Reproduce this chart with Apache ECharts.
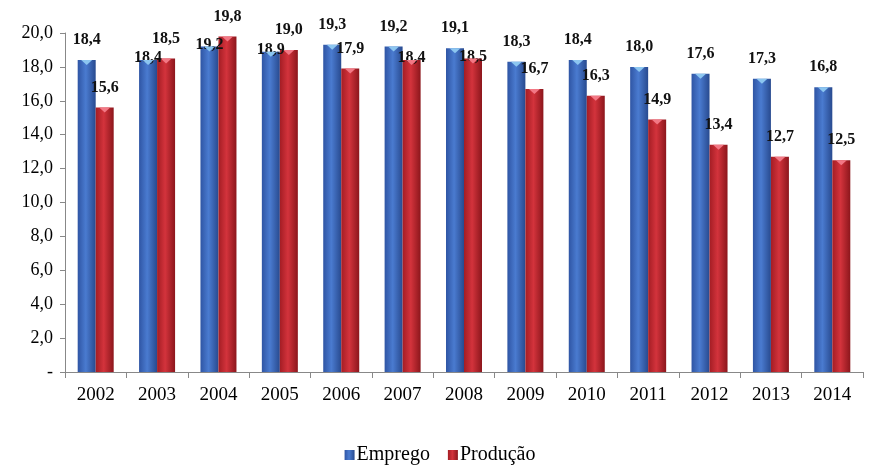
<!DOCTYPE html>
<html>
<head>
<meta charset="utf-8">
<script src="https://cdn.jsdelivr.net/npm/echarts@6/dist/echarts.min.js"></script>
<style>
  html, body { margin: 0; padding: 0; background: #fff; }
  #chart { width: 880px; height: 470px; }
</style>
</head>
<body>
<div id="chart"></div>
<script>
var anos = ['2002', '2003', '2004', '2005', '2006', '2007', '2008', '2009', '2010', '2011', '2012', '2013', '2014'];
var emprego = [18.4, 18.4, 19.2, 18.9, 19.3, 19.2, 19.1, 18.3, 18.4, 18.0, 17.6, 17.3, 16.8];
var producao = [15.6, 18.5, 19.8, 19.0, 17.9, 18.4, 18.5, 16.7, 16.3, 14.9, 13.4, 12.7, 12.5];

var fonte = '"Liberation Serif", "Times New Roman", serif';

function virgula(v) {
  return v.toFixed(1).replace('.', ',');
}

// gradiente horizontal para dar o ar de cilindro
function grad(borda, meio, escuro) {
  return new echarts.graphic.LinearGradient(0, 0, 1, 0, [
    { offset: 0, color: borda },
    { offset: 0.45, color: meio },
    { offset: 1, color: escuro }
  ]);
}

// quando os dois rótulos do mesmo ano se encostam, o da barra mais baixa desce
function ajustaRotulo(p) {
  var i = p.dataIndex;
  var meu = p.seriesIndex === 0 ? emprego[i] : producao[i];
  var outro = p.seriesIndex === 0 ? producao[i] : emprego[i];
  if (Math.abs(meu - outro) < 1 && meu < outro) {
    return { dy: 18 };
  }
  return {};
}

var rotulo = {
  show: true, position: 'top', distance: 12,
  fontFamily: fonte, fontSize: 16, fontWeight: 'bold', color: '#111',
  formatter: function (p) { return virgula(p.value); }
};

// tampinha triangular clara no topo de cada barra
var tampa = 'path://M0,0 L10,0 L5,5 Z';

var myChart = echarts.init(document.getElementById('chart'));

var option = {
  backgroundColor: '#fff',
  animation: false,
  grid: { left: 65, right: 17, top: 33, bottom: 98 },
  legend: {
    data: ['Emprego', 'Produção'],
    left: 'center',
    top: 440,
    itemWidth: 10,
    itemHeight: 10,
    itemGap: 18,
    icon: 'rect',
    textStyle: { fontFamily: fonte, fontSize: 20, color: '#000', padding: [0, 0, 0, -3] }
  },
  xAxis: {
    type: 'category',
    data: anos,
    axisLine: { lineStyle: { color: '#888' } },
    axisTick: { show: true, length: 6, lineStyle: { color: '#888' } },
    axisLabel: { fontFamily: fonte, fontSize: 19, color: '#000', margin: 14 }
  },
  yAxis: {
    type: 'value',
    min: 0,
    max: 20,
    interval: 2,
    splitLine: { show: false },
    axisLine: { show: true, lineStyle: { color: '#888' } },
    axisTick: { show: true, length: 5, lineStyle: { color: '#888' } },
    axisLabel: {
      fontFamily: fonte, fontSize: 18, color: '#000', margin: 12,
      formatter: function (v) { return v === 0 ? '-' : virgula(v); }
    }
  },
  series: [
    {
      name: 'Emprego',
      type: 'bar',
      data: emprego,
      barWidth: 18,
      barGap: '0%',
      itemStyle: { color: grad('#2f55a4', '#4a7bd0', '#284a8f') },
      label: rotulo,
      labelLayout: ajustaRotulo
    },
    {
      name: 'Produção',
      type: 'bar',
      data: producao,
      barWidth: 18,
      barGap: '0%',
      itemStyle: { color: grad('#a41d24', '#d3333c', '#8c161c') },
      label: rotulo,
      labelLayout: ajustaRotulo
    },
    {
      type: 'pictorialBar',
      data: emprego,
      barWidth: 18,
      barGap: '0%',
      symbol: tampa,
      symbolSize: [11, 5],
      symbolPosition: 'end',
      itemStyle: { color: '#8cc6f0' },
      silent: true,
      z: 3
    },
    {
      type: 'pictorialBar',
      data: producao,
      barWidth: 18,
      barGap: '0%',
      symbol: tampa,
      symbolSize: [11, 5],
      symbolPosition: 'end',
      itemStyle: { color: '#f27885' },
      silent: true,
      z: 3
    }
  ]
};

myChart.setOption(option);
</script>
</body>
</html>
